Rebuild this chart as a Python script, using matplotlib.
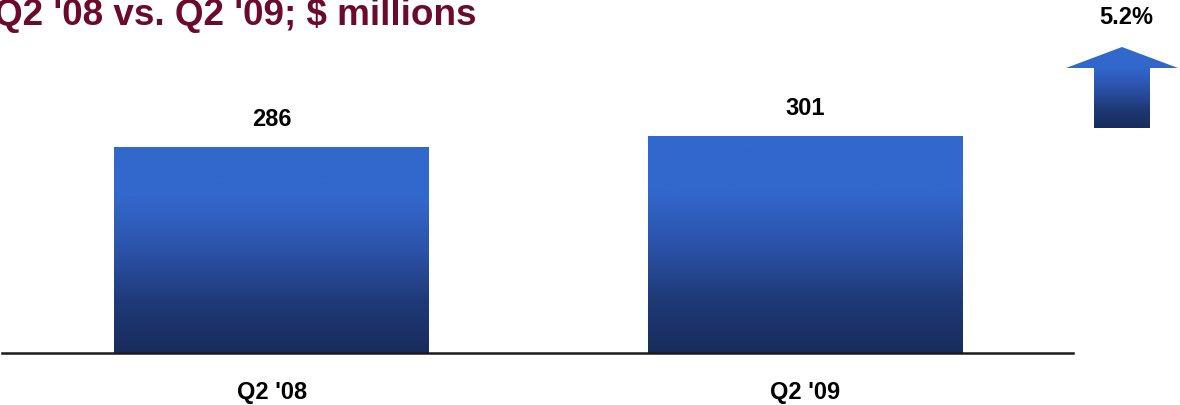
import numpy as np
import matplotlib.pyplot as plt
from matplotlib.colors import LinearSegmentedColormap
from matplotlib.patches import Polygon

categories = ["Q2 '08", "Q2 '09"]
values = [286, 301]
change_label = "5.2%"
title = "Q2 '08 vs. Q2 '09; $ millions"

plt.rcParams['font.family'] = ['Liberation Sans', 'DejaVu Sans']

blue_grad = LinearSegmentedColormap.from_list(
    'blue_grad', ['#182c5c', '#1f3a78', '#2c53aa', '#3267cc', '#3268cd'])

fig = plt.figure(figsize=(11.8, 4.05), dpi=100)
W, H = 1180, 405

# plotting area: baseline at y=353px, spans x 2..1073px
ax = fig.add_axes([2 / W, (H - 353) / H, 1071 / W, 353 / H])
ax.set_xlim(-0.505, 1.501)
ax.set_ylim(0, 490)
ax.axis('off')

grad = np.linspace(0, 1, 256).reshape(-1, 1)
bar_w = 0.59
x = np.arange(len(values))
bars = ax.bar(x, values, width=bar_w, color='none', edgecolor='none')
for b, v in zip(bars, values):
    x0 = b.get_x()
    im = ax.imshow(grad, cmap=blue_grad, origin='lower', aspect='auto',
                   extent=[x0, x0 + bar_w, 0, v], zorder=2)
    im.set_clip_path(b)
    ax.text(b.get_x() + bar_w / 2, v + 38, str(v), ha='center', va='center',
            fontsize=17, fontweight='bold', color='black')

ax.axhline(0, color='#1a1a1a', lw=1.8, zorder=3, clip_on=False)
ax.set_ylim(0, 490)

for xi, lab in zip(x, categories):
    fig.text((2 + 1071 * (xi + 0.505) / 2.006) / W, 1 - 393 / H, lab,
             ha='center', va='center', fontsize=17, fontweight='bold')

fig.text(-6 / W, 1 - 25 / H, title, ha='left', va='baseline',
         fontsize=26.6, fontweight='bold', color='#6b0a2a')

# growth arrow in the top-right corner
arr = fig.add_axes([0, 0, 1, 1])
arr.set_xlim(0, W)
arr.set_ylim(H, 0)
arr.axis('off')
pts = [(1066, 68), (1122, 47), (1178, 68), (1150, 68), (1150, 128),
       (1094, 128), (1094, 68)]
poly = Polygon(pts, closed=True, facecolor='none', edgecolor='none')
arr.add_patch(poly)
im = arr.imshow(grad, cmap=blue_grad, origin='lower', aspect='auto',
                extent=[1066, 1178, 128, 47])
im.set_clip_path(poly)
arr.set_xlim(0, W)
arr.set_ylim(H, 0)
arr.text(1126, 17, change_label, ha='center', va='center',
         fontsize=17, fontweight='bold')

fig.savefig('out.png', dpi=100)
